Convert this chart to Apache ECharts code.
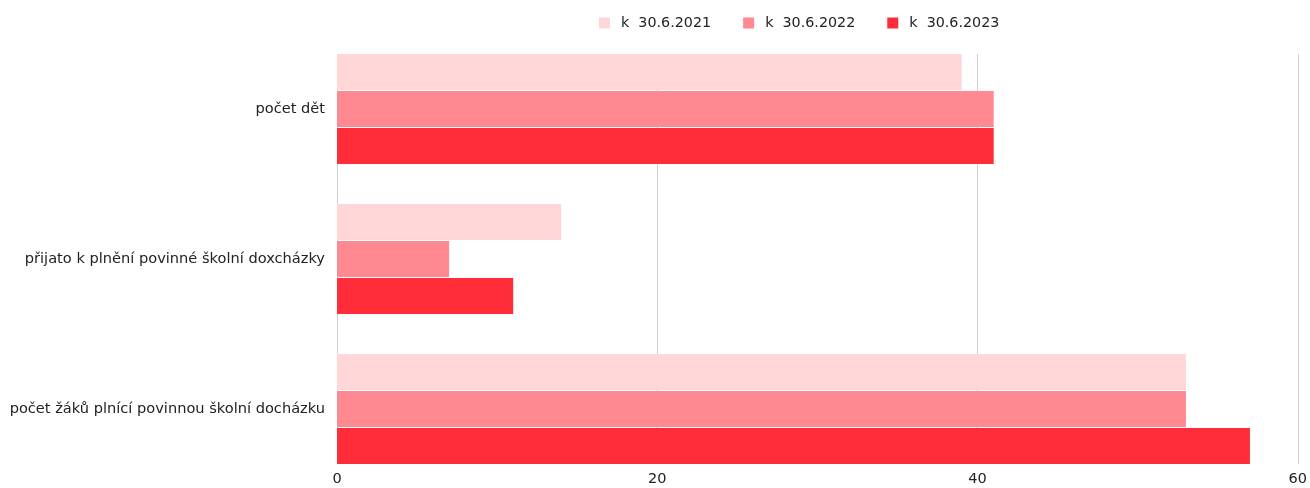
<!DOCTYPE html>
<html>
<head>
<meta charset="utf-8">
<script src="https://cdn.jsdelivr.net/npm/echarts@6/dist/echarts.min.js"></script>
<style>
    html, body { margin: 0; padding: 0; background: #fff; }
    #chart { width: 1310px; height: 488px; }
</style>
</head>
<body>
<div id="chart"></div>
<script>
    var categories = ['počet dět', 'přijato k plnění povinné školní doxcházky', 'počet žáků plnící povinnou školní docházku'];
    var seriesNames = ['k  30.6.2021', 'k  30.6.2022', 'k  30.6.2023'];
    var values2021 = [39, 14, 53];
    var values2022 = [41, 7, 53];
    var values2023 = [41, 11, 57];
    var colors = ['#ffd7d9', '#ff8990', '#ff2d3a'];

    var chart = echarts.init(document.getElementById('chart'));
    var font = '"DejaVu Sans", sans-serif';

    function barSeries(name, data) {
        return {
            name: name,
            type: 'bar',
            xAxisIndex: 1,
            yAxisIndex: 1,
            barWidth: 36,
            barGap: '3%',
            data: data
        };
    }

    var option = {
        color: colors,
        animation: false,
        textStyle: { fontFamily: font },
        legend: {
            left: 594,
            top: 11,
            itemWidth: 11,
            itemHeight: 11,
            itemGap: 32,
            icon: 'rect',
            textStyle: { fontSize: 14.3, color: '#222', fontFamily: font, padding: [0, 0, 0, 6] },
            data: seriesNames
        },
        grid: [
            // grid for the gridlines and value labels
            { left: 337, right: 12, top: 54, bottom: 24 },
            // grid for the bars
            { left: 337, right: 12, top: 34, bottom: 4 }
        ],
        xAxis: [
            {
                gridIndex: 0,
                type: 'value',
                min: 0,
                max: 60,
                interval: 20,
                axisLine: { show: false },
                axisTick: { show: false },
                splitLine: { lineStyle: { color: '#d0d0d0', width: 1 } },
                axisLabel: { color: '#222', fontSize: 14.5, margin: 8, fontFamily: font }
            },
            {
                gridIndex: 1,
                type: 'value',
                min: 0,
                max: 60,
                interval: 20,
                show: false,
                splitLine: { show: false }
            }
        ],
        yAxis: [
            {
                gridIndex: 0,
                type: 'category',
                inverse: true,
                data: categories,
                show: false
            },
            {
                gridIndex: 1,
                type: 'category',
                inverse: true,
                data: categories,
                axisLine: { show: false },
                axisTick: { show: false },
                axisLabel: { color: '#222', fontSize: 14.6, margin: 12, fontFamily: font }
            }
        ],
        series: [
            barSeries(seriesNames[0], values2021),
            barSeries(seriesNames[1], values2022),
            barSeries(seriesNames[2], values2023)
        ]
    };

    chart.setOption(option);
</script>
</body>
</html>
